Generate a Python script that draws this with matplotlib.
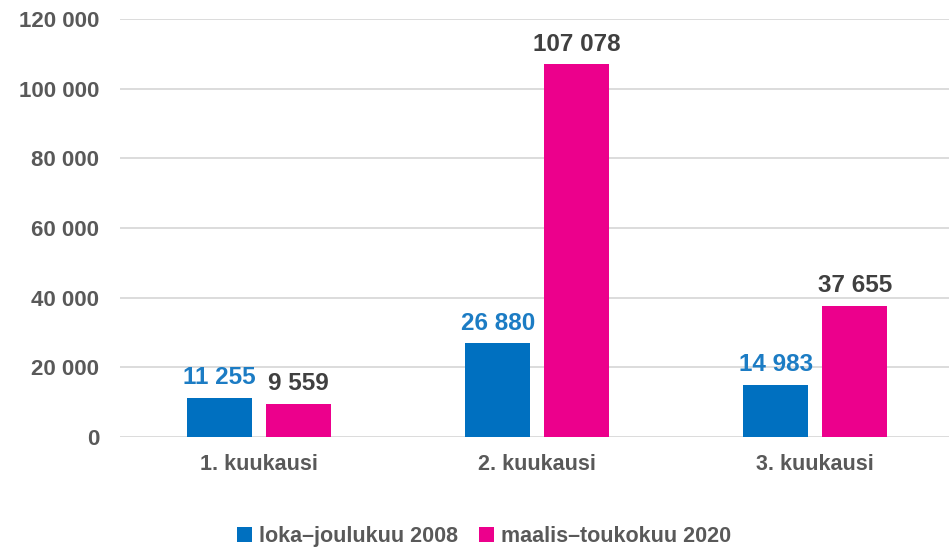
import numpy as np
import matplotlib.pyplot as plt
from matplotlib.ticker import FuncFormatter

plt.rcParams["font.family"] = ["Liberation Sans", "DejaVu Sans"]
plt.rcParams["font.weight"] = "bold"

categories = ["1. kuukausi", "2. kuukausi", "3. kuukausi"]
series_names = ["loka–joulukuu 2008", "maalis–toukokuu 2020"]
values_2008 = [11255, 26880, 14983]
values_2020 = [9559, 107078, 37655]

bar_colors = ["#0070C0", "#EC008C"]
label_colors = ["#1C7CC4", "#404040"]
grey = "#595959"


def fmt(v, pos=None):
    return f"{int(v):,}".replace(",", " ")


fig = plt.figure(figsize=(9.49, 5.47), dpi=100)
ax = fig.add_axes([0.1265, 0.2011, 0.879, 0.7642])

x = np.arange(len(categories))
offset = 0.142
width = 0.234

for i, vals in enumerate([values_2008, values_2020]):
    pos = x - offset if i == 0 else x + offset
    bars = ax.bar(pos, vals, width=width, color=bar_colors[i], label=series_names[i], zorder=3)
    for b, v in zip(bars, vals):
        ax.annotate(fmt(v), (b.get_x() + b.get_width() / 2, v), xytext=(0, 6),
                    textcoords="offset points", ha="center", va="bottom",
                    fontsize=17.5, fontweight="bold", color=label_colors[i])

ax.set_xlim(-0.5, 2.5)
ax.set_ylim(0, 120000)
ax.set_yticks(np.arange(0, 120001, 20000))
ax.yaxis.set_major_formatter(FuncFormatter(fmt))
ax.set_xticks(x)
ax.set_xticklabels(categories)

ax.grid(axis="y", color="#D9D9D9", linewidth=1.3, zorder=0)
for s in ax.spines.values():
    s.set_visible(False)
ax.tick_params(axis="y", length=0, pad=15, labelsize=16, labelcolor=grey)
ax.tick_params(axis="x", length=0, pad=12, labelsize=15.5, labelcolor=grey)

fig.legend(loc="lower center", bbox_to_anchor=(0.51, -0.035), ncol=2, frameon=False,
           fontsize=15.5, labelcolor=grey, handlelength=0.7, handleheight=0.7,
           handletextpad=0.3, columnspacing=1.0)

fig.savefig("out.png", dpi=100)
